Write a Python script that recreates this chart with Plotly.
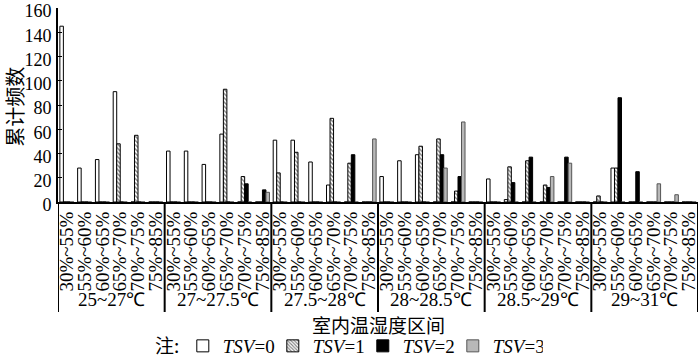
import plotly.graph_objects as go

groups = ["25~27℃", "27~27.5℃", "27.5~28℃", "28~28.5℃", "28.5~29℃", "29~31℃"]
humidity = ["30%~55%", "55%~60%", "60%~65%", "65%~70%", "70%~75%", "75%~85%"]

tsv0 = [145, 28, 35, 91, 0, 0,
        42, 42, 31, 56, 0, 0,
        51, 51, 33, 14, 0, 0,
        21, 34, 39, 0, 0, 0,
        19, 2, 0, 0, 0, 0,
        0, 28, 0, 0, 0, 0]
tsv1 = [0, 0, 0, 48, 55, 0,
        0, 0, 0, 93, 21, 0,
        24, 41, 0, 69, 32, 0,
        0, 0, 46, 52, 9, 0,
        0, 29, 34, 14, 0, 0,
        5, 28, 0, 0, 0, 0]
tsv2 = [0, 0, 0, 0, 0, 0,
        0, 0, 0, 0, 15, 10,
        0, 0, 0, 0, 39, 0,
        0, 0, 0, 39, 21, 0,
        0, 16, 37, 12, 37, 0,
        0, 86, 25, 0, 0, 0]
tsv3 = [0, 0, 0, 0, 0, 0,
        0, 0, 0, 0, 0, 8,
        0, 0, 0, 0, 0, 52,
        0, 0, 0, 28, 66, 0,
        0, 0, 0, 21, 32, 0,
        0, 0, 0, 15, 6, 0]
series_names = ["<i>TSV</i>=0", "<i>TSV</i>=1", "<i>TSV</i>=2", "<i>TSV</i>=3"]
y_ticks = [0, 20, 40, 60, 80, 100, 120, 140, 160]

n_h = len(humidity)
x_pos = list(range(len(groups) * n_h))
x_text = [h for g in groups for h in humidity]

serif = "Liberation Serif"
cjk = "Noto Sans CJK SC"

fig = go.Figure()
fig.add_trace(go.Bar(x=x_pos, y=tsv0, name=series_names[0],
                     marker=dict(color="white", line=dict(color="black", width=1))))
fig.add_trace(go.Bar(x=x_pos, y=tsv1, name=series_names[1],
                     marker=dict(color="white", line=dict(color="black", width=1),
                                 pattern=dict(shape="\\", fgcolor="black", bgcolor="white",
                                              size=3, solidity=0.45))))
fig.add_trace(go.Bar(x=x_pos, y=tsv2, name=series_names[2],
                     marker=dict(color="black", line=dict(color="black", width=1))))
fig.add_trace(go.Bar(x=x_pos, y=tsv3, name=series_names[3],
                     marker=dict(color="#b8b8b8", line=dict(color="#555555", width=1))))

H = 358
top_m, bot_m = 8, 156
plot_h = H - top_m - bot_m


def py(pixel_y):
    """convert a pixel row of the page into paper fraction"""
    return (H - bot_m - pixel_y) / plot_h


fig.update_layout(
    width=700, height=H,
    margin=dict(l=58, r=2, t=top_m, b=bot_m),
    plot_bgcolor="white", paper_bgcolor="white",
    barmode="group", bargap=0.21, bargroupgap=0,
    font=dict(family=serif, size=19, color="black"),
    legend=dict(orientation="h", x=0.195, xanchor="left", y=1 - 346 / H, yanchor="middle",
                yref="container",
                font=dict(family=serif, size=19), entrywidth=45, entrywidthmode="pixels",
                bgcolor="rgba(0,0,0,0)", traceorder="normal", borderwidth=0,
                tracegroupgap=0, itemwidth=30),
    showlegend=True,
)
fig.update_yaxes(range=[0, 160], tickvals=y_ticks, automargin=False,
                 ticklabeloverflow="allow", ticklabelshift=3,
                 showgrid=False, zeroline=False, showline=True, linecolor="black",
                 linewidth=2, ticks="inside", ticklen=4, tickcolor="black",
                 tickfont=dict(family=serif, size=18), ticklabelstandoff=1)
fig.update_xaxes(range=[-0.5, len(x_pos) - 0.5], tickvals=x_pos, ticktext=x_text,
                 automargin=False, ticklabeloverflow="allow",
                 showgrid=False, zeroline=False, showline=True,
                 linecolor="black", linewidth=2, ticks="", tickangle=-90,
                 tickfont=dict(family=serif, size=19), ticklabelstandoff=0)

# group separators and group labels (positioned by data index)
for i in range(len(groups) + 1):
    fig.add_shape(type="line", xref="x", yref="paper", x0=i * n_h - 0.5, x1=i * n_h - 0.5,
                  y0=0, y1=py(312), line=dict(color="black", width=2))
for i, g in enumerate(groups):
    fig.add_annotation(text=g, xref="x", yref="paper", x=i * n_h + (n_h - 1) / 2, y=py(299),
                       xanchor="center", yanchor="middle", showarrow=False,
                       font=dict(family=serif, size=19))

fig.add_annotation(text="累计频数", xref="paper", yref="paper", x=-0.069, y=py(107),
                   xanchor="center", yanchor="middle", textangle=-90, showarrow=False,
                   font=dict(family=cjk, size=20))
fig.add_annotation(text="室内温湿度区间", xref="paper", yref="paper", x=0.5, y=py(324),
                   xanchor="center", yanchor="middle", showarrow=False,
                   font=dict(family=cjk, size=19))
fig.add_annotation(text="注:", xref="paper", yref="paper", x=0.170, y=py(344),
                   xanchor="center", yanchor="middle", showarrow=False,
                   font=dict(family=cjk, size=19))

fig.write_html("out.html")
